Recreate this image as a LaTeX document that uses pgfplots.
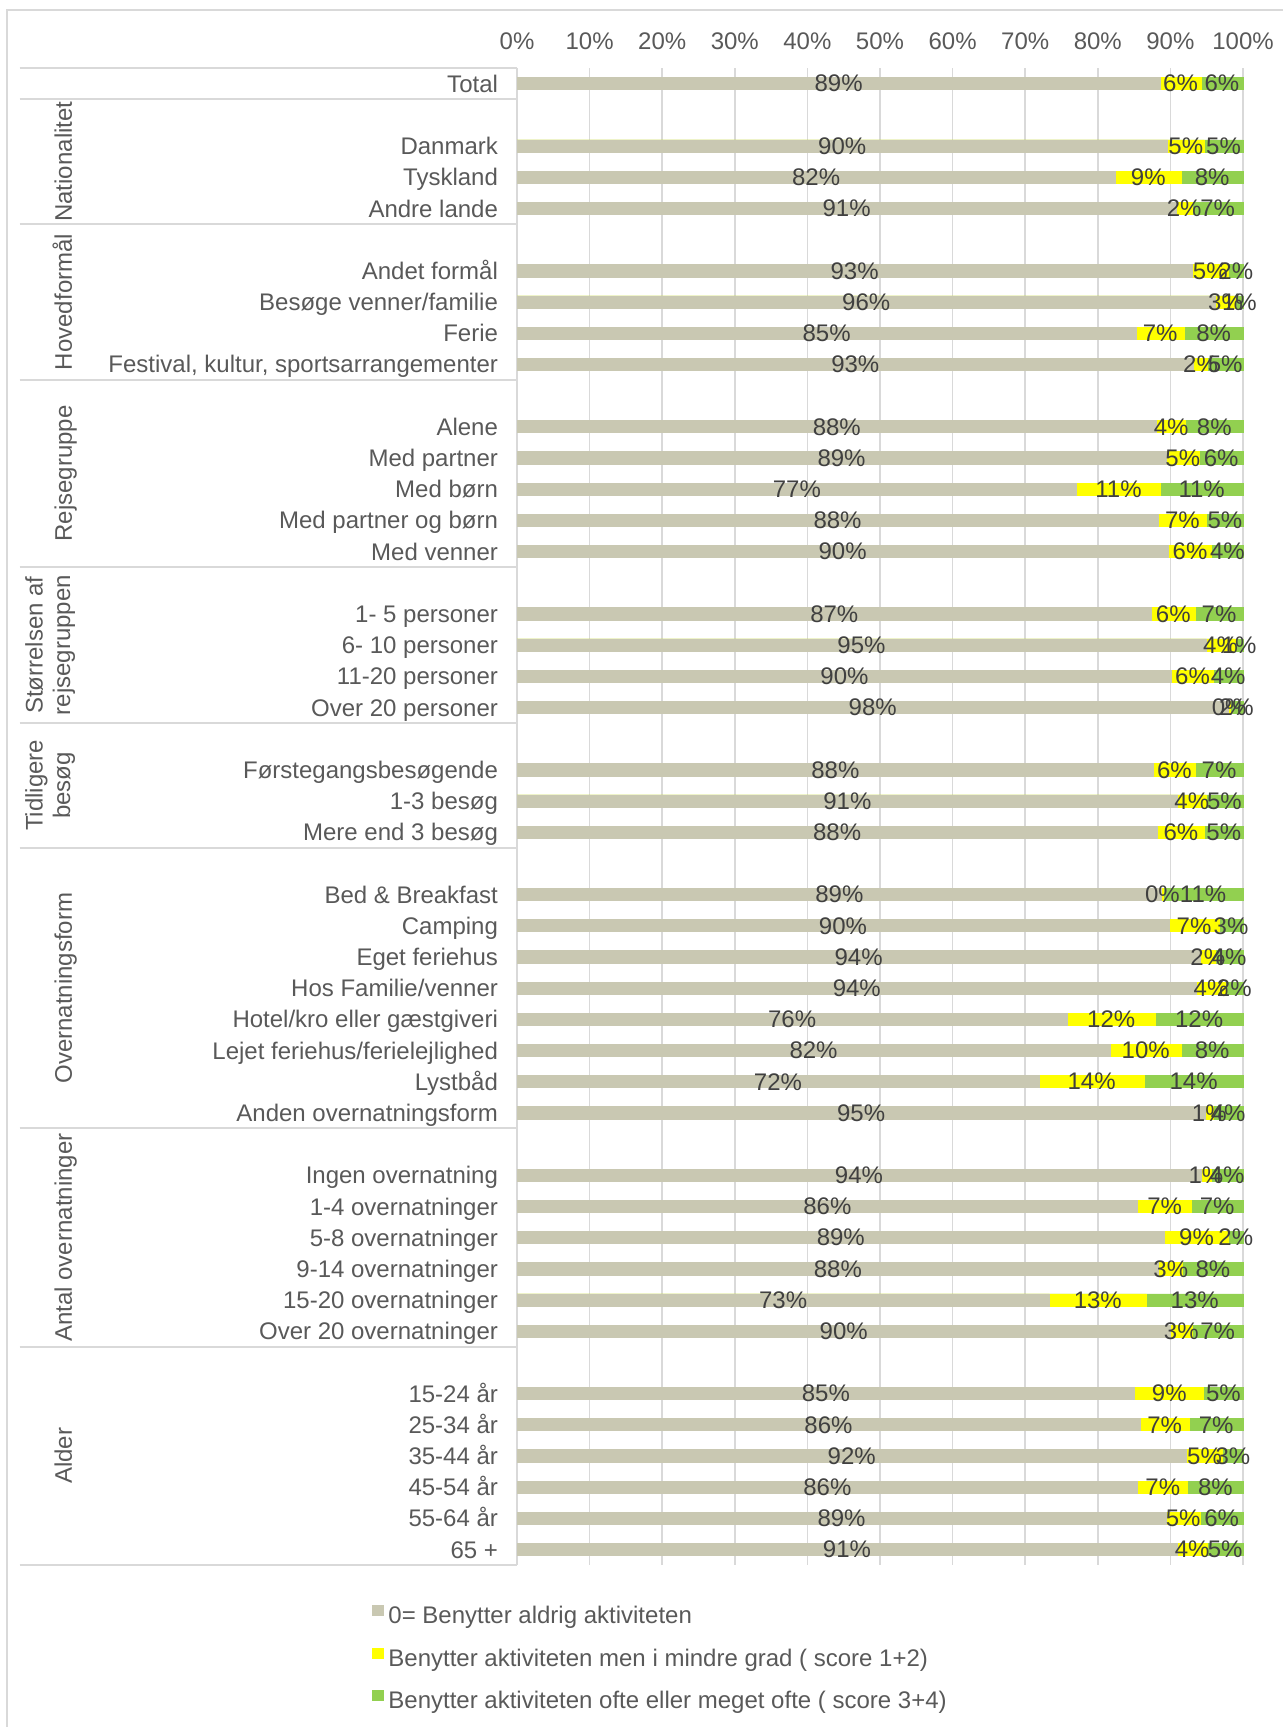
\documentclass[border=0pt]{standalone}
\usepackage{fontspec}
\setmainfont{Liberation Sans}
\usepackage{pgfplots}
\usepackage{pgfplotstable}
\pgfplotsset{compat=1.18}

\definecolor{barGrey}{HTML}{C9C8B2}
\definecolor{barYellow}{HTML}{FFFF00}
\definecolor{barGreen}{HTML}{92D050}
\definecolor{labelGrey}{HTML}{595959}
\definecolor{valueGrey}{HTML}{404040}
\definecolor{ruleGrey}{HTML}{D9D9D9}

% y = row (blank rows between groups are skipped), a/b/c = bar parts, la/lb/lc = printed labels
\pgfplotstableread{
y  a     b     c     la lb lc
0  88.6  5.6   5.8   89 6  6
2  89.6  5.05  5.35  90 5  5
3  82.4  9.1   8.5   82 9  8
4  90.8  2.2   7.0   91 2  7
6  93.0  5.0   2.0   93 5  2
7  96.2  2.8   1.0   96 3  1
8  85.3  6.6   8.1   85 7  8
9  93.2  1.9   4.9   93 2  5
11 88.1  4.0   7.9   88 4  8
12 89.4  4.6   6.0   89 5  6
13 77.1  11.5  11.4  77 11 11
14 88.3  6.7   5.0   88 7  5
15 89.7  6.0   4.3   90 6  4
17 87.4  6.0   6.6   87 6  7
18 94.9  4.0   1.1   95 4  1
19 90.2  5.7   4.1   90 6  4
20 98.0  0.2   1.8   98 0  2
22 87.7  5.7   6.6   88 6  7
23 91.0  3.9   5.1   91 4  5
24 88.2  6.5   5.3   88 6  5
26 88.8  0.2   11.0  89 0  11
27 89.8  6.9   3.3   90 7  3
28 94.1  2.1   3.8   94 2  4
29 93.6  4.0   2.4   94 4  2
30 75.8  12.1  12.1  76 12 12
31 81.7  9.8   8.5   82 10 8
32 71.9  14.5  13.6  72 14 14
33 94.8  1.1   4.1   95 1  4
35 94.2  1.4   4.4   94 1  4
36 85.5  7.4   7.1   86 7  7
37 89.2  8.8   2.0   89 9  2
38 88.4  3.3   8.3   88 3  8
39 73.3  13.4  13.3  73 13 13
40 90.0  3.0   7.0   90 3  7
42 85.1  9.5   5.4   85 9  5
43 85.8  6.8   7.4   86 7  7
44 92.2  5.0   2.8   92 5  3
45 85.5  6.9   7.6   86 7  8
46 89.4  4.7   5.9   89 5  6
47 90.9  4.2   4.9   91 4  5
}\data

\pgfplotsset{
  % bars overlap (drawn back to front); a thin outline in the bar's own colour hides the edge of the bar below
  mybar/.style={xbar, bar width=6.1pt, bar shift=0pt, draw=#1, line width=0.4pt, fill=#1,
    legend image code/.code={\fill[##1, draw=none] (0pt,0.7pt) rectangle (6pt,6.2pt);}},
  mylabel/.style={forget plot, only marks, mark=*, mark size=0pt,
    point meta=explicit symbolic,
    nodes near coords={\pgfplotspointmeta\%},
    nodes near coords align={center},
    every node near coord/.append style={anchor=center, text=valueGrey, inner sep=0pt}},
}

\begin{document}
\begin{tikzpicture}[font=\fontsize{12}{13.8}\selectfont]
\useasboundingbox (0,0) rectangle (641.5pt,863.5pt);
% outer frame (top and left edges visible)
\draw[ruleGrey, line width=1pt] (3.25pt,0) -- (3.25pt,858.5pt) -- (641.5pt,858.5pt);

\begin{axis}[
  at={(258.5pt,829.45pt)}, anchor=north west,
  scale only axis, width=363pt, height=748.5pt,
  xmin=0, xmax=100, ymin=-0.5, ymax=47.5,
  y dir=reverse,
  clip=false,
  axis line style={draw=none},
  major tick length=0pt,
  xtick={0,10,...,100},
  xticklabels={0\%,10\%,20\%,30\%,40\%,50\%,60\%,70\%,80\%,90\%,100\%},
  xticklabel pos=upper,
  xticklabel style={text=labelGrey, yshift=5.5pt},
  xmajorgrids,
  major grid style={draw=ruleGrey, line width=0.75pt},
  ytick={0,2,3,4,6,7,8,9,11,12,13,14,15,17,18,19,20,22,23,24,26,27,28,29,30,31,32,33,35,36,37,38,39,40,42,43,44,45,46,47},
  yticklabels={Total,Danmark,Tyskland,Andre lande,Andet formål,Besøge venner/familie,Ferie,{Festival, kultur, sportsarrangementer},
    Alene,Med partner,Med børn,Med partner og børn,Med venner,
    1- 5 personer,6- 10 personer,11-20 personer,Over 20 personer,
    Førstegangsbesøgende,1-3 besøg,Mere end 3 besøg,
    Bed \& Breakfast,Camping,Eget feriehus,Hos Familie/venner,Hotel/kro eller gæstgiveri,Lejet feriehus/ferielejlighed,Lystbåd,Anden overnatningsform,
    Ingen overnatning,1-4 overnatninger,5-8 overnatninger,9-14 overnatninger,15-20 overnatninger,Over 20 overnatninger,
    15-24 år,25-34 år,35-44 år,45-54 år,55-64 år,65 +},
  yticklabel style={text=labelGrey, xshift=-6pt, text height=8.6pt, text depth=0pt},
  reverse legend,
  legend cell align=left,
  legend style={at={(-0.1997,-0.0267)}, anchor=north west, draw=none, fill=none,
    text=labelGrey, row sep=9pt, inner sep=0pt,
    nodes={inner sep=0pt, text height=9pt, text depth=3pt},
    /tikz/every odd column/.append style={column sep=2pt}},
]
\addplot[mybar=barGreen] table[x expr=\thisrow{a}+\thisrow{b}+\thisrow{c}, y=y]{\data};
\addlegendentry{Benytter aktiviteten ofte eller meget ofte ( score 3+4)}
\addplot[mybar=barYellow] table[x expr=\thisrow{a}+\thisrow{b}, y=y]{\data};
\addlegendentry{Benytter aktiviteten men i mindre grad ( score 1+2)}
\addplot[mybar=barGrey] table[x=a, y=y]{\data};
\addlegendentry{0= Benytter aldrig aktiviteten}

% value labels in the middle of each part
\addplot[mylabel] table[x expr=\thisrow{a}/2, y=y, meta=la]{\data};
\addplot[mylabel] table[x expr=\thisrow{a}+\thisrow{b}/2, y=y, meta=lb]{\data};
\addplot[mylabel] table[x expr=\thisrow{a}+\thisrow{b}+\thisrow{c}/2, y=y, meta=lc]{\data};

% group separators and group names
\pgfplotsinvokeforeach{-0.5,0.5,4.5,9.5,15.5,20.5,24.5,33.5,40.5,47.5}{
  \draw[ruleGrey, line width=1pt] (axis cs:-68.5,#1) -- (axis cs:0,#1);
}
\begin{scope}[every node/.style={rotate=90, anchor=center, align=center, text=labelGrey}]
\node[text height=8.6pt, text depth=0pt] at (axis cs:-62.5,2.5) {Nationalitet};
\node[text height=8.6pt, text depth=0pt] at (axis cs:-62.5,7) {Hovedformål};
\node[text height=8.6pt, text depth=0pt] at (axis cs:-62.5,12.5) {Rejsegruppe};
\node at (axis cs:-64.3,18) {Størrelsen af\\rejsegruppen};
\node at (axis cs:-64.3,22.5) {Tidligere\\besøg};
\node[text height=8.6pt, text depth=0pt] at (axis cs:-62.5,29) {Overnatningsform};
\node[text height=8.6pt, text depth=0pt] at (axis cs:-62.5,37) {Antal overnatninger};
\node[text height=8.6pt, text depth=0pt] at (axis cs:-62.5,44) {Alder};
\end{scope}
\end{axis}
\end{tikzpicture}
\end{document}
